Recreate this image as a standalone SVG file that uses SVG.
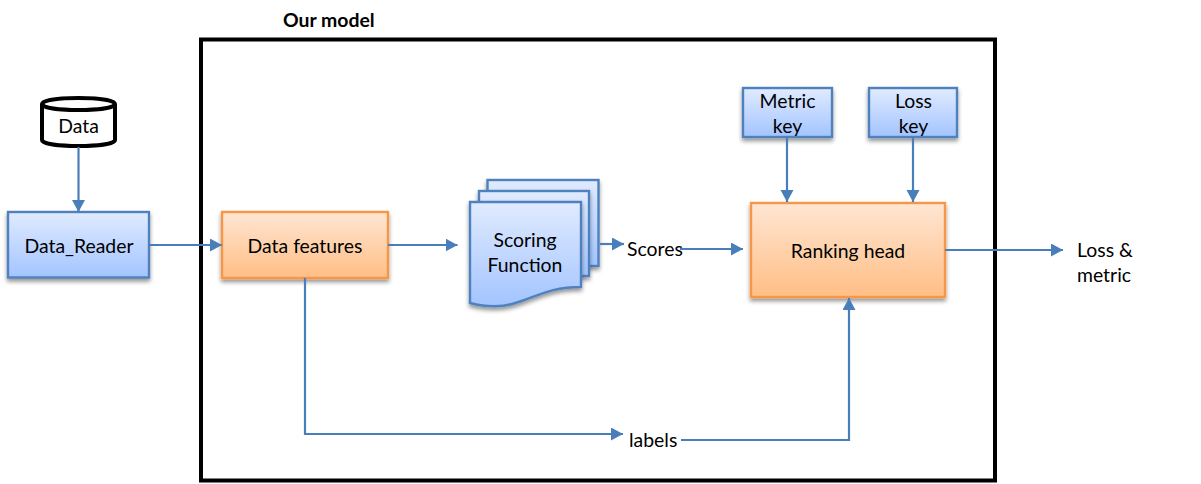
<svg xmlns="http://www.w3.org/2000/svg" width="1201" height="484" viewBox="0 0 1201 484">
<defs>
<linearGradient id="blue" x1="0" y1="0" x2="0" y2="1"><stop offset="0" stop-color="#e0ebff"/><stop offset="1" stop-color="#a3c4ff"/></linearGradient>
<linearGradient id="orange" x1="0" y1="0" x2="0" y2="1"><stop offset="0" stop-color="#ffe6d3"/><stop offset="1" stop-color="#ffbe85"/></linearGradient>
<filter id="sh" x="-15%" y="-15%" width="130%" height="135%"><feDropShadow dx="0" dy="3" stdDeviation="2.200" flood-color="#000" flood-opacity="0.42"/></filter>
<marker id="arr" markerUnits="userSpaceOnUse" markerWidth="13" markerHeight="14" refX="12" refY="6.500" orient="auto"><path d="M0,0 L12,6.500 L0,13 Z" fill="#4a7ebb"/></marker>
</defs>
<style>
text{font-family:"Lato","Carlito","Noto Sans",sans-serif;font-size:19.400px;fill:#000;text-anchor:middle}
.t{text-anchor:start}
.b{stroke:#4f81bd;stroke-width:2.400;fill:url(#blue);filter:url(#sh)}
.o{stroke:#f79646;stroke-width:2.400;fill:url(#orange);filter:url(#sh)}
.c{fill:none;stroke:#4a7ebb;stroke-width:2.200;marker-end:url(#arr)}
</style>
<rect id="model-frame" x="201" y="39.500" width="794" height="441" fill="none" stroke="#000" stroke-width="4"/>
<g id="model-title"><text class="t" x="283" y="27" style="font-size:19.400px;font-weight:700">Our model</text></g>
<g id="data"><path d="M42,104 C42,96 115,96 115,104 V140 C115,148 42,148 42,140 Z" fill="#fff" stroke="#000" stroke-width="4"/><path d="M42,104 C42,112 115,112 115,104" fill="none" stroke="#000" stroke-width="4"/><text x="78.500" y="133">Data</text></g>
<g id="data-reader"><rect class="b" x="8" y="212" width="141" height="65.500"/><text x="79" y="253">Data_Reader</text></g>
<g id="data-features"><rect class="o" x="222" y="212" width="166" height="66"/><text x="305" y="253">Data features</text></g>
<g id="scoring-function">
<rect class="b" x="487.500" y="180" width="111" height="86"/>
<rect class="b" x="479" y="191" width="110" height="85"/>
<path class="b" d="M470,202 H581 V287 C548,287 535,298 512,304 C497,308 482,306 470,303 Z"/>
<text x="525" y="247">Scoring</text><text x="525" y="272">Function</text></g>
<g id="metric-key"><rect class="b" x="743" y="88" width="89" height="49"/><text x="787.500" y="108">Metric</text><text x="787.500" y="133">key</text></g>
<g id="loss-key"><rect class="b" x="869" y="88" width="88" height="49"/><text x="913.500" y="108">Loss</text><text x="913.500" y="133">key</text></g>
<g id="ranking-head"><rect class="o" x="751" y="203" width="194" height="94"/><text x="848" y="258">Ranking head</text></g>
<g id="scores"><text class="t" x="627" y="256">Scores</text></g>
<g id="labels"><text class="t" x="629" y="447">labels</text></g>
<g id="loss-metric"><text class="t" x="1077" y="257">Loss &amp;</text><text class="t" x="1077" y="282">metric</text></g>
<g id="connectors">
<path class="c" d="M78.500,147 V212"/>
<path class="c" d="M149,245 H222"/>
<path class="c" d="M388,245 H457.500"/>
<path class="c" d="M600,244 H624"/>
<path class="c" d="M680,249 H743"/>
<path class="c" d="M787,137 V202"/>
<path class="c" d="M913,137 V202"/>
<path class="c" d="M945,250 H1063"/>
<path class="c" d="M305,278 V434 H623"/>
<path class="c" d="M681,440 H849 V298"/>
</g>
</svg>
